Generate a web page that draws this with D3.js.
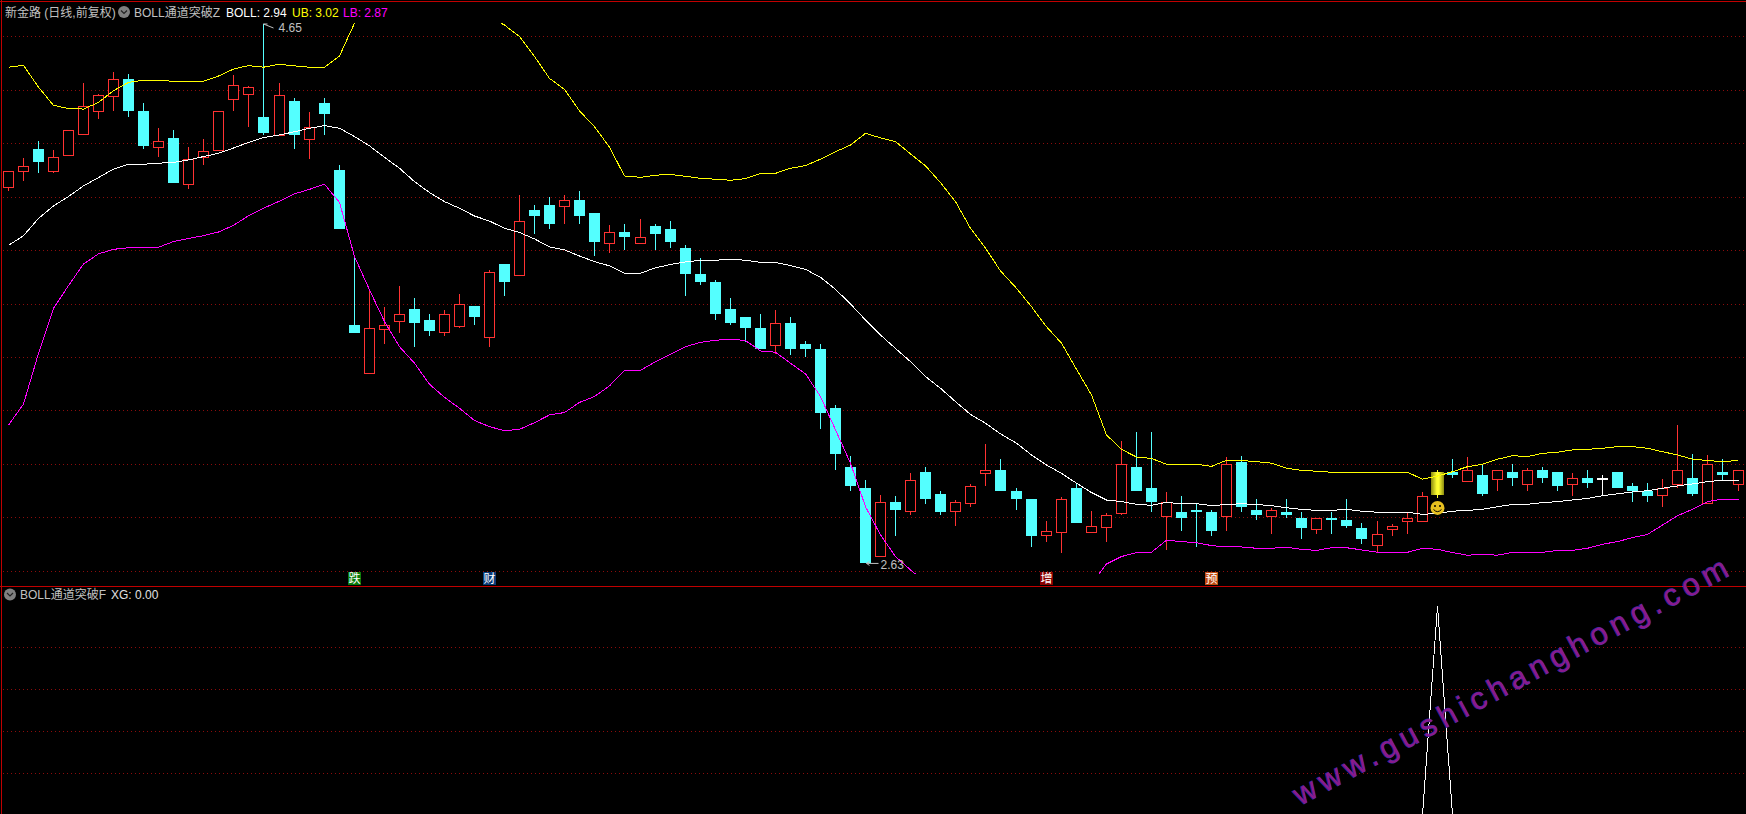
<!DOCTYPE html>
<html><head><meta charset="utf-8">
<script src="https://cdn.jsdelivr.net/npm/d3@7"></script>
<style>
html,body{margin:0;padding:0;background:#000;overflow:hidden}
svg{display:block}
text{font-family:"Liberation Sans","Noto Sans CJK SC",sans-serif}
</style></head><body>
<svg id="c" width="1746" height="814"></svg>
<script>
const highs=[4.10,4.146,4.211,4.178,4.251,4.429,4.388,4.47,4.463,4.354,4.26,4.253,4.189,4.219,4.323,4.459,4.418,4.65,4.429,4.371,4.32,4.373,4.121,3.773,3.656,3.589,3.668,3.623,3.563,3.578,3.638,3.593,3.728,3.75,4.009,3.971,4.001,4.009,4.024,3.941,3.896,3.9,3.919,3.9,3.911,3.821,3.773,3.69,3.623,3.551,3.563,3.578,3.551,3.461,3.45,3.221,3.03,2.94,2.884,2.88,2.966,2.989,2.899,2.865,2.925,3.075,3.019,2.91,2.869,2.786,2.876,2.929,2.824,2.816,3.086,3.12,3.12,2.895,2.88,2.85,2.828,3.026,3.03,2.869,2.835,2.869,2.82,2.796,2.82,2.869,2.779,2.786,2.775,2.816,2.894,2.978,3.019,3.026,3.0,2.978,3.0,2.985,2.989,2.97,2.966,2.978,2.959,2.97,2.929,2.929,2.944,3.146,3.038,3.034,3.019,2.976];
const lows=[4.024,4.061,4.091,4.091,4.16,4.234,4.294,4.324,4.301,4.181,4.151,4.054,4.031,4.121,4.174,4.324,4.264,4.234,4.23,4.181,4.144,4.234,3.881,3.491,3.34,3.45,3.491,3.439,3.48,3.48,3.51,3.521,3.439,3.63,3.71,3.863,3.881,3.9,3.9,3.78,3.791,3.803,3.83,3.803,3.81,3.63,3.671,3.54,3.521,3.458,3.431,3.413,3.409,3.401,3.131,2.978,2.899,2.629,2.656,2.73,2.809,2.85,2.809,2.768,2.839,2.918,2.899,2.828,2.689,2.708,2.666,2.779,2.746,2.708,2.809,2.899,2.82,2.678,2.749,2.689,2.73,2.749,2.82,2.79,2.738,2.798,2.719,2.738,2.738,2.76,2.7,2.666,2.73,2.738,2.788,2.871,2.948,2.938,2.88,2.899,2.918,2.899,2.929,2.899,2.88,2.91,2.88,2.91,2.858,2.858,2.839,2.91,2.88,2.855,2.94,2.899];
const opens=[4.04,4.10,4.181,4.10,4.16,4.239,4.323,4.381,4.444,4.324,4.19,4.223,4.051,4.15,4.179,4.37,4.389,4.301,4.233,4.361,4.22,4.354,4.103,3.521,3.34,3.508,3.538,3.581,3.54,3.496,3.519,3.593,3.478,3.75,3.71,3.953,3.971,3.969,3.99,3.941,3.83,3.87,3.83,3.893,3.881,3.81,3.713,3.683,3.581,3.551,3.51,3.448,3.529,3.45,3.431,3.21,2.989,2.91,2.656,2.858,2.825,2.97,2.888,2.825,2.855,2.968,2.978,2.899,2.869,2.735,2.746,2.91,2.746,2.765,2.818,2.989,2.91,2.806,2.82,2.828,2.82,2.806,3.008,2.828,2.806,2.82,2.798,2.758,2.798,2.79,2.76,2.698,2.758,2.788,2.788,2.97,2.97,2.938,2.959,2.945,2.97,2.926,2.978,2.97,2.926,2.948,2.948,2.97,2.918,2.899,2.884,2.926,2.948,2.855,2.97,2.926];
const closes=[4.10,4.119,4.133,4.15,4.251,4.341,4.383,4.443,4.324,4.193,4.21,4.054,4.143,4.173,4.323,4.42,4.413,4.241,4.383,4.234,4.263,4.313,3.881,3.491,3.509,3.52,3.561,3.529,3.499,3.561,3.599,3.551,3.719,3.683,3.91,3.93,3.9,3.989,3.93,3.833,3.869,3.851,3.85,3.863,3.833,3.713,3.683,3.563,3.529,3.51,3.431,3.528,3.431,3.431,3.191,3.038,2.918,2.629,2.856,2.828,2.939,2.869,2.82,2.856,2.916,2.978,2.899,2.869,2.73,2.748,2.868,2.779,2.766,2.808,2.999,2.899,2.858,2.856,2.798,2.82,2.749,2.999,2.839,2.809,2.826,2.809,2.76,2.796,2.79,2.768,2.719,2.736,2.766,2.796,2.879,2.884,2.959,2.976,2.888,2.976,2.948,2.976,2.948,2.918,2.946,2.929,2.948,2.91,2.899,2.88,2.909,2.976,2.888,2.999,2.959,2.976];
const upper=[4.488,4.495,4.413,4.345,4.333,4.331,4.356,4.4,4.431,4.439,4.439,4.435,4.435,4.435,4.455,4.481,4.494,4.488,4.499,4.493,4.488,4.488,4.53,4.653,4.80,null,null,null,null,null,null,null,4.678,4.646,4.603,4.528,4.446,4.405,4.324,4.265,4.188,4.08,4.075,4.083,4.086,4.079,4.071,4.068,4.064,4.07,4.09,4.09,4.109,4.119,4.143,4.171,4.196,4.24,4.223,4.209,4.163,4.118,4.055,3.984,3.884,3.809,3.724,3.659,3.59,3.515,3.453,3.355,3.259,3.109,3.055,3.026,3.021,2.999,2.999,2.999,2.991,3.014,3.013,3.009,3.003,2.984,2.976,2.973,2.969,2.969,2.969,2.969,2.969,2.969,2.943,2.955,2.971,2.99,2.999,3.018,3.031,3.028,3.04,3.044,3.053,3.055,3.059,3.065,3.065,3.059,3.046,3.034,3.018,3.013,3.009,3.013];
const middle=[3.82,3.856,3.921,3.968,4.003,4.043,4.074,4.106,4.124,4.124,4.128,4.131,4.14,4.153,4.165,4.185,4.206,4.224,4.234,4.246,4.259,4.269,4.259,4.228,4.193,4.15,4.109,4.059,4.018,3.984,3.959,3.93,3.911,3.884,3.868,3.844,3.814,3.803,3.78,3.759,3.743,3.715,3.715,3.736,3.748,3.758,3.764,3.764,3.768,3.764,3.756,3.756,3.744,3.73,3.7,3.655,3.6,3.54,3.484,3.433,3.384,3.328,3.284,3.234,3.186,3.153,3.113,3.078,3.034,2.996,2.965,2.928,2.893,2.865,2.859,2.849,2.845,2.856,2.851,2.851,2.844,2.848,2.851,2.848,2.844,2.836,2.83,2.826,2.826,2.83,2.823,2.819,2.819,2.819,2.811,2.815,2.823,2.826,2.83,2.84,2.848,2.849,2.855,2.859,2.865,2.871,2.881,2.888,2.895,2.9,2.909,2.918,2.925,2.934,2.939,2.939];
const lower=[3.146,3.225,3.415,3.584,3.669,3.75,3.788,3.805,3.811,3.813,3.813,3.834,3.846,3.856,3.87,3.895,3.931,3.959,3.986,4.013,4.03,4.049,3.981,3.778,3.653,3.534,3.44,3.378,3.299,3.25,3.209,3.163,3.14,3.125,3.13,3.155,3.184,3.193,3.231,3.253,3.293,3.351,3.351,3.384,3.411,3.44,3.456,3.464,3.468,3.463,3.424,3.419,3.378,3.338,3.253,3.128,3.003,2.84,2.734,2.653,2.603,2.556,null,null,null,null,null,null,null,null,null,null,2.55,2.625,2.653,2.668,2.669,2.714,2.709,2.705,2.694,2.689,2.689,2.684,2.684,2.688,2.68,2.676,2.686,2.686,2.678,2.669,2.669,2.669,2.684,2.68,2.668,2.658,2.661,2.658,2.669,2.669,2.669,2.676,2.676,2.684,2.699,2.709,2.724,2.736,2.771,2.806,2.83,2.859,2.868,2.868];
const xg=[0,0,0,0,0,0,0,0,0,0,0,0,0,0,0,0,0,0,0,0,0,0,0,0,0,0,0,0,0,0,0,0,0,0,0,0,0,0,0,0,0,0,0,0,0,0,0,0,0,0,0,0,0,0,0,0,0,0,0,0,0,0,0,0,0,0,0,0,0,0,0,0,0,0,0,0,0,0,0,0,0,0,0,0,0,0,0,0,0,0,0,0,0,0,0,1,0,0,0,0,0,0,0,0,0,0,0,0,0,0,0,0,0,0,0,0];
const priceGrid=[4.603,4.402,4.201,4.001,3.80,3.60,3.399,3.199,2.998,2.798,2.597];
const xgGrid=[0.2,0.4,0.6,0.8];
const signalIndex=95, dojiIndex=106;
const badgeIndex=[23,32,69,80];
const badgeText=["跌","财","增","预"];
const badgeColor=["#0a7a0a","#0a3a78","#8a0000","#c04a10"];
const title="新金路 (日线,前复权)", indName="BOLL通道突破Z", subName="BOLL通道突破F";
const legend=[["BOLL: 2.94","#fff",226],["UB: 3.02","#ff0",292],["LB: 2.87","#f0f",343]];
const watermark="www.gushichanghong.com";

const svg=d3.select("#c");
const defs=svg.append("defs");
defs.append("clipPath").attr("id","up").append("rect").attr("x",2).attr("y",23).attr("width",1744).attr("height",551);
defs.append("clipPath").attr("id","dn").append("rect").attr("x",2).attr("y",587).attr("width",1744).attr("height",227);
const g=defs.append("linearGradient").attr("id","gold");
[[0,"#8a8a10"],[.45,"#ffff30"],[.6,"#ffff30"],[1,"#8a8a10"]].forEach(s=>g.append("stop").attr("offset",s[0]).attr("stop-color",s[1]));

const n=closes.length;
const x=d3.scaleLinear().domain([0,n-1]).range([8.3,1738]);
const px=i=>Math.floor(x(i))+0.5;
const y=d3.scaleLinear().domain([4.74,2.58]).range([0,576]);
const y2=d3.scaleLinear().domain([0,1]).range([815,606]);

svg.append("rect").attr("width",1746).attr("height",814).attr("fill","#000");
// grid
const grid=svg.append("g").attr("stroke","#8c0c0c").attr("stroke-dasharray","1 3");
grid.selectAll(".a").data(priceGrid).join("line").attr("class","a").attr("x1",3).attr("x2",1746).attr("y1",d=>Math.floor(y(d))+.5).attr("y2",d=>Math.floor(y(d))+.5);
grid.selectAll(".b").data(xgGrid).join("line").attr("class","b").attr("x1",3).attr("x2",1746).attr("y1",d=>Math.floor(y2(d))+.5).attr("y2",d=>Math.floor(y2(d))+.5);
// frame
const frame=svg.append("g").attr("stroke","#c00000").attr("shape-rendering","crispEdges");
frame.append("line").attr("x1",0).attr("x2",1746).attr("y1",1.5).attr("y2",1.5);
frame.append("line").attr("x1",1.5).attr("x2",1.5).attr("y1",0).attr("y2",814);
frame.append("line").attr("x1",0).attr("x2",1746).attr("y1",586.5).attr("y2",586.5);

// candles
const color=i=>i===dojiIndex?"#fff":(closes[i]>opens[i]?"#ff3232":"#54ffff");
const idx=d3.range(n);
const cg=svg.append("g").attr("clip-path","url(#up)").attr("shape-rendering","crispEdges");
cg.selectAll(".w").data(idx).join("line").attr("class","w").attr("x1",px).attr("x2",px)
  .attr("y1",i=>y(highs[i])).attr("y2",i=>y(lows[i]))
  .attr("stroke",i=>i===signalIndex?"#ffff30":color(i));
cg.selectAll(".r").data(idx).join("rect").attr("class","r").each(function(i){
  const up=closes[i]>opens[i];
  const t=Math.round(y(Math.max(opens[i],closes[i]))),b=Math.round(y(Math.min(opens[i],closes[i])));
  const s=d3.select(this);
  if(i===signalIndex) s.attr("x",px(i)-6.5).attr("y",t).attr("width",13).attr("height",b-t).attr("fill","url(#gold)");
  else if(up) s.attr("x",px(i)-5).attr("y",t+.5).attr("width",10).attr("height",b-t).attr("fill","#000").attr("stroke",color(i));
  else s.attr("x",px(i)-5.5).attr("y",t).attr("width",11).attr("height",Math.max(b-t,2)).attr("fill",color(i));
});

// bands
const line=a=>d3.line().defined(i=>a[i]!==null).x(px).y(i=>y(a[i]))(idx);
const bands=svg.append("g").attr("clip-path","url(#up)").attr("fill","none").attr("stroke-width",1).attr("shape-rendering","crispEdges");
[[upper,"#ffff00"],[middle,"#ffffff"],[lower,"#ff00ff"]].forEach(d=>bands.append("path").attr("d",line(d[0])).attr("stroke",d[1]));

// smiley
const sx=px(signalIndex), sy=y(lows[signalIndex])+9.5;
const sm=svg.append("g").attr("transform",`translate(${sx},${sy})`);
sm.append("circle").attr("r",7).attr("fill","#e8c020");
sm.append("circle").attr("cx",-2.5).attr("cy",-2).attr("r",1).attr("fill","#000");
sm.append("circle").attr("cx",2.5).attr("cy",-2).attr("r",1).attr("fill","#000");
sm.append("path").attr("d","M-4 1.5Q0 6 4 1.5").attr("fill","none").attr("stroke","#000");

// high / low labels
const hiI=highs.indexOf(d3.max(highs)), loI=lows.indexOf(d3.min(lows));
const lab=svg.append("g").attr("fill","#c0c0c0").attr("font-size",12);
lab.append("text").attr("x",px(hiI)+15).attr("y",y(highs[hiI])+8).text(highs[hiI].toFixed(2));
lab.append("path").attr("d",`M${px(hiI)} ${y(highs[hiI])}h4M${px(hiI)} ${y(highs[hiI])}l10 4`).attr("stroke","#c0c0c0").attr("fill","none");
lab.append("text").attr("x",px(loI)+15).attr("y",y(lows[loI])+6).text(lows[loI].toFixed(2));
lab.append("path").attr("d",`M${px(loI)+1} ${y(lows[loI])+.5}h12M${px(loI)+1} ${y(lows[loI])+.5}l3 -2M${px(loI)+1} ${y(lows[loI])+.5}l3 2`).attr("stroke","#c0c0c0").attr("fill","none");

// badges
const bg=svg.append("g");
badgeIndex.forEach((b,k)=>{
  bg.append("rect").attr("x",px(b)-6.5).attr("y",572).attr("width",13).attr("height",13).attr("fill",badgeColor[k]);
  bg.append("text").attr("x",px(b)).attr("y",583).attr("font-size",12).attr("text-anchor","middle").attr("fill","#fff").text(badgeText[k]);
});

// XG pane
svg.append("g").attr("clip-path","url(#dn)").append("path")
  .attr("d",d3.line().x(px).y(i=>y2(xg[i]))(idx)).attr("fill","none").attr("stroke","#fff").attr("shape-rendering","crispEdges");

// header
const icon=(cx,cy)=>{
  svg.append("circle").attr("cx",cx).attr("cy",cy).attr("r",6).attr("fill","#808080");
  svg.append("path").attr("d",`M${cx-3} ${cy-1.5}l3 3l3 -3`).attr("fill","none").attr("stroke","#222").attr("stroke-width",1.2);
};
const T=(s,xx,yy,c)=>svg.append("text").attr("x",xx).attr("y",yy).attr("font-size",12).attr("fill",c).text(s);
T(title,5,17,"#c0c0c0");
icon(124,12);
T(indName,134,17,"#c0c0c0");
legend.forEach(l=>T(l[0],l[2],17,l[1]));
icon(10,594.5);
T(subName,20,599,"#c0c0c0");
T("XG: 0.00",111,599,"#e0e0e0");

// watermark
svg.append("text").attr("transform","translate(1300,806) rotate(-28.2)").attr("font-family","DejaVu Sans").attr("font-size",31)
  .attr("letter-spacing",5.7).attr("fill","#8a1a8c").attr("stroke","#3a2aa8").attr("stroke-width",1).attr("paint-order","stroke").text(watermark);
</script></body></html>
